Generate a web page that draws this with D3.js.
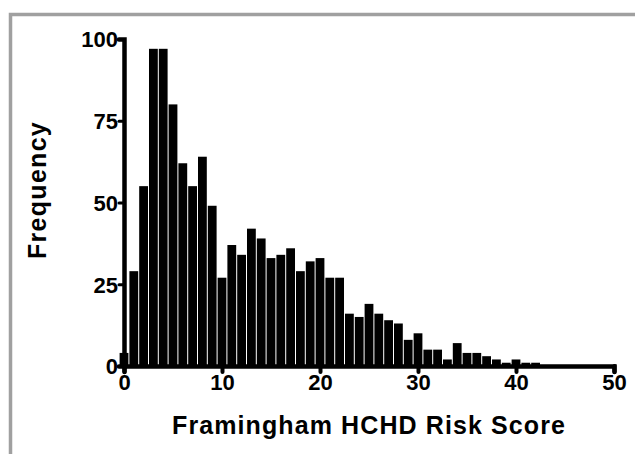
<!DOCTYPE html>
<html>
  <head>
    <meta charset="utf-8">
    <script src="https://d3js.org/d3.v7.min.js"></script>
    <style type="text/css">
      body { margin: 0; background: #fff; }
      .axis text {
      font-family: "Liberation Sans", Arial, sans-serif;
      font-weight: bold;
      font-size: 22px;
      fill: #000;
      }
      .axis path, .axis line {
      stroke: #000;
      stroke-linecap: round;
      }
      .title {
      font-family: "Liberation Sans", Arial, sans-serif;
      font-weight: bold;
      font-size: 25px;
      fill: #000;
      }
    </style>
  </head>
  <body>
    <div class="plot_canvas"></div>
    <script>

      // histogram counts, one per integer score (bin centred on score)
      var scores = d3.range(0, 50);
      var counts = [4,29,55,97,97,80,62,55,64,49,
                    27,37,34,42,39,33,34,36,29,32,
                    33,27,27,16,15,19,16,14,13,8,
                    10,5,5,2,7,4,4,3,2,1,
                    2,1,1,0,0,0,0,0,0,0];
      var xTicks = [0, 10, 20, 30, 40, 50];
      var yTicks = [0, 25, 50, 75, 100];

      var width = 635;
      var height = 454;
      var margin = {top: 39, right: 21, bottom: 88, left: 124};

      var xScale = d3.scaleLinear()
      .domain([0, 50])
      .range([margin.left, width - margin.right]);

      var yScale = d3.scaleLinear()
      .domain([0, 100])
      .range([height - margin.bottom, margin.top]);

      var svg = d3.select(".plot_canvas")
      .append("svg")
      .attr("width", width)
      .attr("height", height);

      // grey frame, clipped at right and bottom
      svg.append("rect")
      .attr("x", 10.5)
      .attr("y", 14.5)
      .attr("width", 700)
      .attr("height", 500)
      .attr("fill", "none")
      .attr("stroke", "#a0a0a0")
      .attr("stroke-width", 3.5);

      var bars = svg.append("g");
      bars.selectAll("rect")
      .data(scores).enter()
      .append("rect")
      .attr("x", function(d) { return xScale(d - 0.5) + 0.5; })
      .attr("width", function(d) { return xScale(d + 0.5) - xScale(d - 0.5) - 1; })
      .attr("y", function(d, i) { return yScale(counts[i]); })
      .attr("height", function(d, i) { return yScale(0) - yScale(counts[i]); })
      .attr("fill", "#000");

      var xAxis = d3.axisBottom(xScale)
      .tickValues(xTicks)
      .tickSizeOuter(0)
      .tickSize(6)
      .tickPadding(2);

      var yAxis = d3.axisLeft(yScale)
      .tickValues(yTicks)
      .tickSizeOuter(0)
      .tickSize(5)
      .tickPadding(1);

      var gx = svg.append("g")
      .attr("class", "axis")
      .attr("transform", "translate(0," + yScale(0) + ")")
      .call(xAxis);
      gx.select(".domain").attr("stroke-width", 4.5);
      gx.selectAll(".tick line").attr("stroke-width", 4);

      var gy = svg.append("g")
      .attr("class", "axis")
      .attr("transform", "translate(" + margin.left + ",0)")
      .call(yAxis);
      gy.select(".domain").attr("stroke-width", 4.5);
      gy.selectAll(".tick line").attr("stroke-width", 3);
      gy.selectAll(".tick text").attr("dy", "0.36em");

      svg.append("text")
      .attr("class", "title")
      .attr("x", (xScale(0) + xScale(50)) / 2)
      .attr("y", 434)
      .attr("text-anchor", "middle")
      .attr("letter-spacing", "1.1px")
      .text("Framingham HCHD Risk Score");

      svg.append("text")
      .attr("class", "title")
      .attr("transform", "translate(46,190) rotate(-90)")
      .attr("text-anchor", "middle")
      .attr("letter-spacing", "1.3px")
      .text("Frequency");

    </script>
  </body>
</html>
